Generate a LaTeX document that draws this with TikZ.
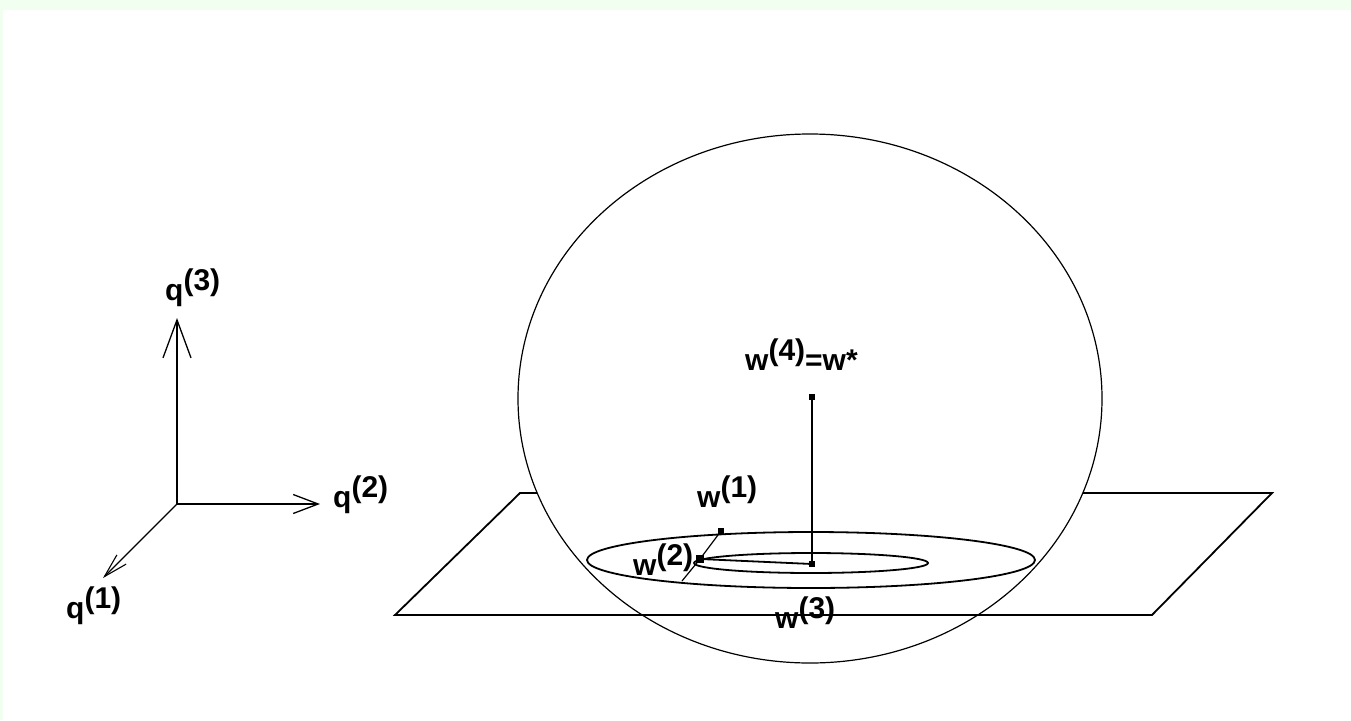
\documentclass[tikz,border=0pt]{standalone}
\usepackage{fontspec}
\setmainfont{Liberation Sans}
\usetikzlibrary{arrows.meta}
\definecolor{bgG}{RGB}{240,255,240}
\newcommand\myss[1]{\raisebox{10pt}{#1}}
\begin{document}
\begin{tikzpicture}[x=1pt,y=-1pt,
  lbl/.style={anchor=base west,inner sep=0pt,font=\fontsize{30}{32}\selectfont\bfseries},
  ln/.style={line width=1.8pt},
  fine/.style={line width=1.2pt},
  dot/.style={rectangle,fill=black,inner sep=0pt,minimum size=6pt},
  axis/.style={line width=1.8pt}]
% background and margins
\fill[bgG] (0,0) rectangle (1351,720);
\fill[white] (3,10) rectangle (1351,720);
% ---------------- axes ----------------
\coordinate (O) at (177,504);
\coordinate (t3) at (177,318);
\coordinate (t2) at (320,504);
\coordinate (t1) at (103,578);
\draw[axis,-{Straight Barb[length=38pt,width=28pt,line width=1.3pt]}] (O) -- (t3);
\draw[axis,-{Straight Barb[length=25pt,width=19pt,line width=1.3pt]}] (O) -- (t2);
\draw[fine,-{Straight Barb[length=24pt,width=13pt,line width=1.1pt]}] (O) -- (t1);
\node[lbl] (q3) at (165,300) {q\myss{(3)}};
\node[lbl] (q2) at (333,507) {q\myss{(2)}};
\node[lbl] (q1) at (66,618) {q\myss{(1)}};
% ---------------- plane ----------------
\coordinate (pa) at (395,615);
\coordinate (pb) at (1152,615);
\coordinate (pc) at (1272,493);
\coordinate (pd) at (520,493);
\coordinate (pdc) at (537,493);
\coordinate (pcc) at (1083,493);
\draw[ln] (pdc) -- (pd) -- (pa) -- (pb) -- (pc) -- (pcc);
% ---------------- sphere ----------------
\draw[fine] (810,398.5) ellipse [x radius=292pt, y radius=264.5pt];
% ---------------- contours ----------------
\draw[ln] (811,560) ellipse [x radius=224pt, y radius=28pt];
\draw[ln] (811,563) ellipse [x radius=117pt, y radius=10pt];
% ---------------- iterates ----------------
\node[dot] (w1) at (721,531) {};
\node[dot,minimum size=8pt] (w2) at (700,559) {};
\node[dot] (w3) at (812,564) {};
\node[dot] (w4) at (812,397) {};
\coordinate (gend) at (682,581);
\draw[fine] (w1.center) -- (w2.center) -- (gend);
\draw[ln] (w2.center) -- (w3.center);
\draw[ln] (w3.center) -- (w4.center);
\node[lbl] (l1) at (697,507) {w\myss{(1)}};
\node[lbl] (l2) at (633,575) {w\myss{(2)}};
\node[lbl] (l3) at (775,628) {w\myss{(3)}};
\node[lbl] (l4) at (745,370) {w\myss{(4)}=w*};
\end{tikzpicture}
\end{document}
